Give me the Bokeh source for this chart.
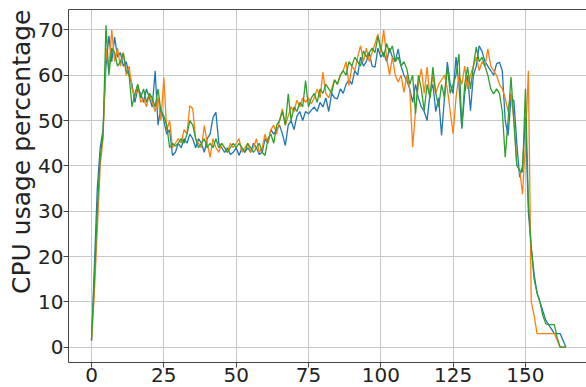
from bokeh.plotting import figure
from bokeh.models import Range1d, LinearAxis, FixedTicker, Title, ColumnDataSource
from bokeh.embed import file_html
from bokeh.resources import INLINE

# CPU usage samples (percent) for three runs, one value per time step
blue = [
    1.5, 18, 35, 44, 48, 62, 68.7, 63, 68.4, 64,
    65, 62, 63, 60, 58, 54, 57, 56, 54, 57,
    55, 53, 61, 49, 53, 50, 47, 48, 42.3, 43,
    45, 44, 46, 45, 47, 46, 44, 46, 45, 43,
    46, 47, 50.7, 51.8, 45, 44, 43, 44, 42.5, 43,
    44, 42.3, 44, 43, 44, 43, 45, 44, 42.5, 43,
    46, 45, 48, 47, 48, 49, 47, 44.5, 49, 50,
    48, 51, 52, 50, 52, 51.5, 52.3, 53, 52, 54,
    53, 55, 52, 56, 55, 54.8, 57, 56, 58, 59,
    58, 61, 60, 64, 62, 63, 65, 62, 61.8, 66,
    64, 65, 63, 66, 64, 63, 65.8, 62, 60, 58.8,
    57, 54, 58, 55, 53, 52, 50, 56, 58, 52,
    55, 46.7, 55, 62.9, 58, 56, 64, 58, 48.2, 56,
    60, 52.2, 60, 62, 66.5, 65.2, 63, 62, 61, 60,
    62.5, 62.9, 61, 50, 46.7, 55, 54.4, 45, 37.5, 40,
    50.7, 30, 22, 16, 12, 10, 8, 6, 5, 4,
    3, 3, 3, 1.5, 0,
]
orange = [
    1.5, 12, 26, 40, 46, 66, 61, 70, 63, 66,
    62, 65, 60, 62, 57, 55, 58, 54, 55, 53,
    56, 54, 52, 55, 50, 59.5, 47.8, 50, 44, 45,
    46, 45, 48, 47, 53.3, 52.6, 46, 45, 44, 48.9,
    45, 41.9, 46, 44, 43, 45, 44, 43, 45, 44,
    45, 46, 43, 44, 45, 43, 44, 46, 43, 44,
    47, 45, 48, 49, 47, 50, 52.6, 49, 51, 53,
    52, 54.5, 53, 55, 54, 55, 53.7, 55, 57, 55,
    60.7, 56, 55, 57, 59, 58, 60, 61, 63, 57.7,
    62, 61, 64, 66.5, 63, 66, 63, 65, 67, 69.1,
    65, 70, 64, 60, 64, 60, 58.5, 60, 56.2, 60,
    57, 44.1, 52, 58, 61.4, 56, 61.8, 55, 60, 56,
    58, 59, 60, 57, 52, 47.1, 55, 60, 58, 62,
    57, 60, 62, 64, 61, 63, 62, 65.8, 62, 61,
    60, 58, 57, 55, 52, 56, 50, 40.3, 39, 33.8,
    45, 61, 10, 7, 3, 3, 3, 3, 3, 3,
    3, 1.5, 0, 0, 0,
]
green = [
    1.5, 15, 30, 42, 47, 71, 60, 66, 65, 62,
    63, 64.9, 61, 60, 53, 56, 58, 55, 57, 54,
    56, 55, 53, 57, 52, 51, 49, 44, 45, 44.4,
    45, 46, 45, 47, 50, 49, 46, 44, 45, 46,
    44, 45, 44, 46, 44, 45, 44, 43, 44, 45,
    44, 45, 44, 43, 45, 44, 43, 44, 45, 43,
    42.3, 46, 47, 45, 49, 50, 52, 49, 55.9, 50,
    53, 52, 54, 53, 58.8, 53, 55, 56, 54, 57,
    56, 58, 57, 56, 59, 58, 60, 61, 60, 63,
    62, 64, 63, 62, 65.4, 64, 65, 66, 65, 68.6,
    66, 64, 67, 65, 66.5, 63, 64, 62, 63, 61.4,
    58, 60, 51.5, 60, 57, 52.2, 58, 55, 61.8, 56,
    53, 58, 55, 62, 56, 58, 60, 64.7, 48.5, 58,
    61.8, 57, 62, 66.2, 63, 64, 62, 60, 57, 55.9,
    57, 56, 52, 41.9, 50, 59.6, 50, 40.1, 39, 38.6,
    57, 32, 22, 15, 12, 10, 7, 5.2, 5, 5,
    5, 2, 0, 0, 0,
]
steps = list(range(len(blue)))

x_ticks = [0, 25, 50, 75, 100, 125, 150]
y_ticks = [0, 10, 20, 30, 40, 50, 60, 70]

FONT = "DejaVu Sans"
INK = "#222222"
SPINE = "#444444"

p = figure(
    width=586, height=387,
    x_range=Range1d(-7.95, 171.1), y_range=Range1d(-3.37, 74.5),
    output_backend="svg", toolbar_location=None,
    min_border_left=68, min_border_right=0, min_border_top=9, min_border_bottom=25,
    background_fill_color="white", border_fill_color="white",
)
p.outline_line_color = None

src = ColumnDataSource(dict(x=steps, b=blue, o=orange, g=green))
p.line("x", "b", source=src, line_color="#1f77b4", line_width=1.3)
p.line("x", "o", source=src, line_color="#ff7f0e", line_width=1.3)
p.line("x", "g", source=src, line_color="#2ca02c", line_width=1.3)

# axes styling
for ax in (p.xaxis[0], p.yaxis[0]):
    ax.axis_line_color = SPINE
    ax.axis_line_width = 1
    ax.major_tick_line_color = SPINE
    ax.major_tick_out = 5
    ax.major_tick_in = 0
    ax.minor_tick_line_color = None
    ax.major_label_text_font = FONT
    ax.major_label_text_font_size = "20px"
    ax.major_label_text_color = INK
    ax.major_label_text_line_height = 0.8
    ax.major_label_standoff = 0

p.xaxis[0].ticker = FixedTicker(ticks=x_ticks)
p.yaxis[0].ticker = FixedTicker(ticks=y_ticks)

# top spine
top = LinearAxis(ticker=FixedTicker(ticks=[]), axis_line_color=SPINE,
                 major_label_text_font_size="0px", major_tick_line_color=None,
                 minor_tick_line_color=None)
p.add_layout(top, "above")

p.grid.grid_line_color = "#c8c8c8"
p.grid.grid_line_width = 1
p.xgrid.ticker = FixedTicker(ticks=x_ticks)
p.ygrid.ticker = FixedTicker(ticks=y_ticks)

# y axis title, flush with the top of the frame
p.add_layout(Title(
    text="CPU usage percentage", align="right",
    text_font=FONT, text_font_size="25px", text_font_style="normal",
    text_color=INK, standoff=0,
), "left")

open("out.html", "w").write(file_html(p, INLINE))
